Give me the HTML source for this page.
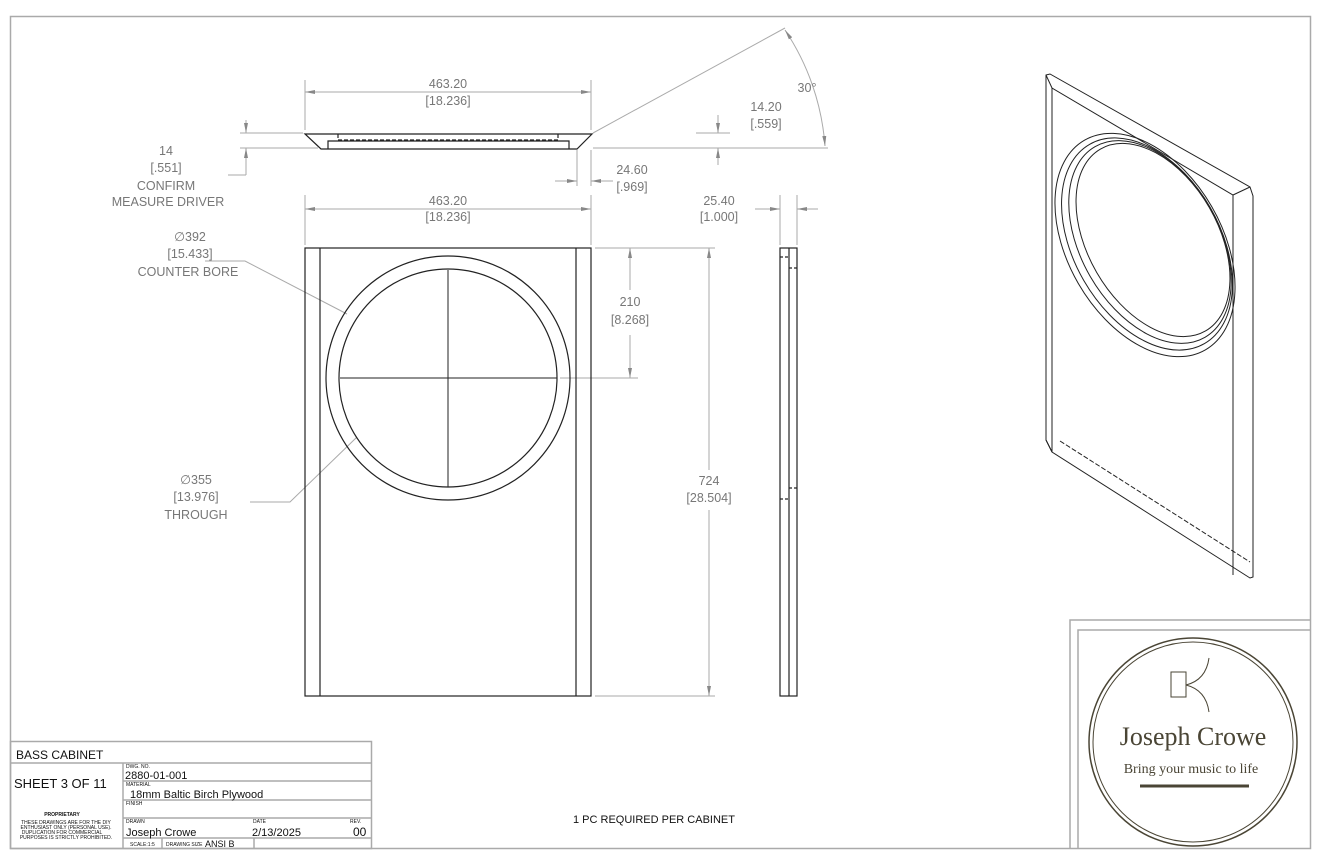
<!DOCTYPE html>
<html><head><style>
body{margin:0;background:#fff;}
svg{display:block;font-family:"Liberation Sans",sans-serif;}
.d{fill:#777;font-size:12.5px;text-anchor:middle}
</style></head><body>
<svg width="1321" height="856" viewBox="0 0 1321 856">
<defs>
<marker id="a" markerWidth="10" markerHeight="6" refX="10" refY="3" orient="auto-start-reverse" markerUnits="userSpaceOnUse"><path d="M0,1 L10,3 L0,5 Z" fill="#888"/></marker>
</defs>
<rect x="10.5" y="16.5" width="1300" height="832" fill="none" stroke="#aaa" stroke-width="1.5"/>
<!-- top view -->
<g stroke="#aaa" stroke-width="1" fill="none">
<line x1="305" y1="80" x2="305" y2="130"/><line x1="591" y1="80" x2="591" y2="130"/>
<line x1="305" y1="92" x2="591" y2="92" marker-start="url(#a)" marker-end="url(#a)"/>
<line x1="240" y1="133" x2="303" y2="133"/><line x1="240" y1="148" x2="318" y2="148"/>
<line x1="246" y1="120" x2="246" y2="133" marker-end="url(#a)"/><line x1="246" y1="175" x2="246" y2="148" marker-end="url(#a)"/>
<line x1="246" y1="175" x2="228" y2="175"/>
<line x1="593" y1="133" x2="785" y2="28"/>
<line x1="593" y1="148" x2="828" y2="148"/><line x1="696" y1="133" x2="730" y2="133"/>
<line x1="718" y1="115" x2="718" y2="133" marker-end="url(#a)"/><line x1="718" y1="165" x2="718" y2="148" marker-end="url(#a)"/>
<line x1="577" y1="150" x2="577" y2="186"/><line x1="591" y1="150" x2="591" y2="186"/>
<line x1="555" y1="181" x2="577" y2="181" marker-end="url(#a)"/><line x1="613" y1="181" x2="591" y2="181" marker-end="url(#a)"/>
<path d="M785,30 A240,240 0 0,1 825,146" marker-start="url(#a)" marker-end="url(#a)"/>
<line x1="305" y1="195" x2="305" y2="245"/><line x1="591" y1="195" x2="591" y2="245"/>
<line x1="305" y1="209" x2="591" y2="209" marker-start="url(#a)" marker-end="url(#a)"/>
<line x1="780" y1="195" x2="780" y2="245"/><line x1="797" y1="195" x2="797" y2="245"/>
<line x1="755" y1="209" x2="780" y2="209" marker-end="url(#a)"/><line x1="818" y1="209" x2="797" y2="209" marker-end="url(#a)"/>
<line x1="595" y1="248" x2="715" y2="248"/><line x1="595" y1="696" x2="715" y2="696"/>
<line x1="560" y1="378" x2="638" y2="378"/>
<line x1="630" y1="290" x2="630" y2="248" marker-end="url(#a)"/><line x1="630" y1="335" x2="630" y2="378" marker-end="url(#a)"/>
<line x1="709" y1="470" x2="709" y2="248" marker-end="url(#a)"/><line x1="709" y1="510" x2="709" y2="696" marker-end="url(#a)"/>
<polyline points="205,261 245,261 347,314"/>
<polyline points="250,502 290,502 357,437"/>
</g>
<g stroke="#222" stroke-width="1.2" fill="none">
<path d="M305,134 L592,134 L577,149 L321,149 Z"/>
<path d="M328,149 L328,141 L569,141 L569,149"/>
<path d="M338,134 V140 H558 V134" stroke-dasharray="4,2"/>
<rect x="305" y="248" width="286" height="448"/>
<line x1="320" y1="248" x2="320" y2="696"/><line x1="576" y1="248" x2="576" y2="696"/>
<circle cx="448" cy="378" r="122"/><circle cx="448" cy="378" r="109"/>
<line x1="340" y1="378" x2="557" y2="378" stroke-width="1"/><line x1="448" y1="270" x2="448" y2="487" stroke-width="1"/>
<rect x="780" y="248" width="17" height="448"/><line x1="789" y1="248" x2="789" y2="696"/>
<path d="M780,257h9M789,268h8M789,488h8M780,499h9" stroke-dasharray="3,2"/>
</g>
<g class="d">
<text x="448" y="88">463.20</text><text x="448" y="105">[18.236]</text>
<text x="166" y="155">14</text><text x="166" y="172">[.551]</text><text x="166" y="190">CONFIRM</text><text x="168" y="206">MEASURE DRIVER</text>
<text x="807" y="92">30°</text>
<text x="766" y="111">14.20</text><text x="766" y="128">[.559]</text>
<text x="632" y="174">24.60</text><text x="632" y="191">[.969]</text>
<text x="448" y="205">463.20</text><text x="448" y="221">[18.236]</text>
<text x="719" y="205">25.40</text><text x="719" y="221">[1.000]</text>
<text x="190" y="241">∅392</text><text x="190" y="258">[15.433]</text><text x="188" y="276">COUNTER BORE</text>
<text x="630" y="306">210</text><text x="630" y="324">[8.268]</text>
<text x="709" y="485">724</text><text x="709" y="502">[28.504]</text>
<text x="196" y="484">∅355</text><text x="196" y="501">[13.976]</text><text x="196" y="519">THROUGH</text>
</g>
<!-- iso -->
<g stroke="#222" stroke-width="1" fill="none">
<path d="M1046,75 L1050,74 L1250,187 L1253,196 L1253,577 L1250,578 L1052,452 L1046,440 Z"/>
<path d="M1046,75 L1052,88 L1233,195 L1250,187 M1052,88 V452 M1233,195 V575 M1046,440 L1052,452"/>
<path d="M1060,441 L1250,562" stroke-dasharray="5,2"/>
<ellipse cx="1145" cy="245" rx="121" ry="77" transform="rotate(60 1145 245)"/>
<ellipse cx="1147" cy="244" rx="115" ry="73" transform="rotate(60 1147 244)"/>
<ellipse cx="1150" cy="242" rx="110" ry="69" transform="rotate(60 1150 242)"/>
<ellipse cx="1153" cy="240" rx="105" ry="65" transform="rotate(60 1153 240)"/>
</g>
<!-- title block -->
<g stroke="#aaa" stroke-width="1.5" fill="none">
<rect x="10.5" y="741.5" width="361" height="107"/>
<line x1="10" y1="763" x2="372" y2="763"/>
<line x1="123" y1="763" x2="123" y2="848"/>
<line x1="123" y1="781" x2="372" y2="781"/><line x1="123" y1="800" x2="372" y2="800"/><line x1="123" y1="818" x2="372" y2="818"/>
<line x1="123" y1="838" x2="372" y2="838"/><line x1="162" y1="838" x2="162" y2="848"/><line x1="254" y1="838" x2="254" y2="848"/>
</g>
<g fill="#111">
<text x="16" y="759" font-size="12">BASS CABINET</text>
<text x="14" y="788" font-size="13">SHEET 3 OF 11</text>
<text x="126" y="768" font-size="5">DWG. NO.</text><text x="125" y="779" font-size="11">2880-01-001</text>
<text x="126" y="786" font-size="5">MATERIAL</text><text x="130" y="798" font-size="11">18mm Baltic Birch Plywood</text>
<text x="126" y="805" font-size="5">FINISH</text>
<text x="126" y="823" font-size="5">DRAWN</text><text x="126" y="836" font-size="11">Joseph Crowe</text>
<text x="253" y="823" font-size="5">DATE</text><text x="252" y="836" font-size="11">2/13/2025</text>
<text x="350" y="823" font-size="5">REV.</text><text x="353" y="836" font-size="12">00</text>
<text x="130" y="846" font-size="5">SCALE:1:5</text><text x="166" y="846" font-size="5">DRAWING SIZE</text><text x="205" y="847" font-size="9">ANSI B</text>
<text x="62" y="816" font-size="5" font-weight="bold" text-anchor="middle">PROPRIETARY</text>
<text x="66" y="824" font-size="5" text-anchor="middle">THESE DRAWINGS ARE FOR THE DIY</text>
<text x="66" y="829" font-size="5" text-anchor="middle">ENTHUSIAST ONLY (PERSONAL USE).</text>
<text x="62" y="834" font-size="5" text-anchor="middle">DUPLICATION FOR COMMERCIAL</text>
<text x="66" y="839" font-size="5" text-anchor="middle">PURPOSES IS STRICTLY PROHIBITED.</text>
<text x="654" y="823" font-size="11" text-anchor="middle">1 PC REQUIRED PER CABINET</text>
</g>
<!-- logo -->
<g stroke="#aaa" stroke-width="1.5" fill="none">
<polyline points="1070,848 1070,620 1310,620"/>
<polyline points="1078,848 1078,630 1310,630"/>
</g>
<g stroke="#4a4535" fill="none">
<circle cx="1193" cy="742" r="104" stroke-width="1.5"/><circle cx="1193" cy="742" r="100" stroke-width="1"/>
<rect x="1171" y="672" width="15" height="25" stroke-width="1"/>
<path d="M1186,685 Q1206,680 1209,658 M1186,685 Q1206,690 1209,712" stroke-width="1"/>
<line x1="1140" y1="786" x2="1249" y2="786" stroke-width="3"/>
</g>
<text x="1193" y="745" font-family="Liberation Serif,serif" font-size="26" fill="#4a4535" text-anchor="middle">Joseph Crowe</text>
<text x="1191" y="773" font-family="Liberation Serif,serif" font-size="14" fill="#4a4535" text-anchor="middle">Bring your music to life</text>
</svg>
</body></html>
